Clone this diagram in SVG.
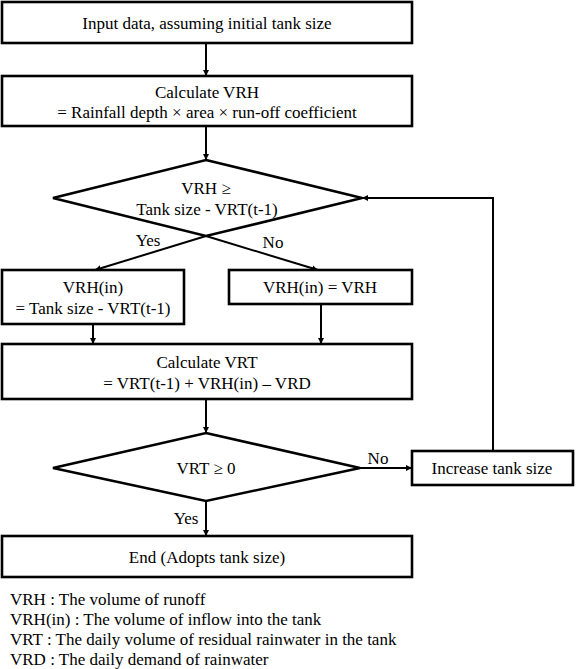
<svg xmlns="http://www.w3.org/2000/svg" width="576" height="669" viewBox="0 0 576 669">
<style>
.box{fill:#fff;stroke:#000;stroke-width:2.6}
.t{font-family:"Liberation Serif","Times New Roman",serif;font-size:17px;fill:#000;text-anchor:middle}
.l{font-family:"Liberation Serif","Times New Roman",serif;font-size:17px;fill:#000}
.c{fill:none;stroke:#000;stroke-width:2}
</style>
<defs>
<marker id="ah" viewBox="0 0 10 10" refX="10" refY="5" markerWidth="6" markerHeight="6" markerUnits="userSpaceOnUse" orient="auto">
<path d="M0,0 L10,5 L0,10 z" fill="#000"/>
</marker>
</defs>
<rect width="576" height="669" fill="#fff"/>
<g id="connectors">
<line class="c" x1="206" y1="43" x2="206" y2="76" marker-end="url(#ah)"/>
<line class="c" x1="206" y1="126" x2="206" y2="160" marker-end="url(#ah)"/>
<line class="c" x1="206" y1="236" x2="95" y2="270" marker-end="url(#ah)"/>
<line class="c" x1="206" y1="236" x2="318" y2="270" marker-end="url(#ah)"/>
<line class="c" x1="93" y1="324" x2="93" y2="344" marker-end="url(#ah)"/>
<line class="c" x1="321" y1="304" x2="321" y2="344" marker-end="url(#ah)"/>
<line class="c" x1="206" y1="399" x2="206" y2="433" marker-end="url(#ah)"/>
<line class="c" x1="360" y1="468" x2="412" y2="468" marker-end="url(#ah)"/>
<line class="c" x1="206" y1="501" x2="206" y2="536" marker-end="url(#ah)"/>
<polyline class="c" points="493,451 493,198 362,198" marker-end="url(#ah)"/>
<text class="t" x="148" y="246">Yes</text>
<text class="t" x="273" y="248">No</text>
<text class="t" x="378" y="464">No</text>
<text class="t" x="186" y="524">Yes</text>
</g>
<g id="start">
<rect class="box" x="2" y="2" width="410" height="41"/>
<text class="t" x="207" y="29">Input data, assuming initial tank size</text>
</g>
<g id="calc-vrh">
<rect class="box" x="2" y="76" width="410" height="50"/>
<text class="t" x="207" y="98">Calculate VRH</text>
<text class="t" x="207" y="118">= Rainfall depth × area × run-off coefficient</text>
</g>
<g id="decision1">
<polygon class="box" points="206,160 362,198 206,236 53,198"/>
<text class="t" x="206" y="194">VRH ≥</text>
<text class="t" x="207" y="215">Tank size - VRT(t-1)</text>
</g>
<g id="yes-box">
<rect class="box" x="2" y="270" width="182" height="54"/>
<text class="t" x="93" y="293">VRH(in)</text>
<text class="t" x="93" y="314">= Tank size - VRT(t-1)</text>
</g>
<g id="no-box">
<rect class="box" x="229" y="270" width="183" height="34"/>
<text class="t" x="320" y="293">VRH(in) = VRH</text>
</g>
<g id="calc-vrt">
<rect class="box" x="2" y="344" width="410" height="55"/>
<text class="t" x="207" y="368">Calculate VRT</text>
<text class="t" x="207" y="389">= VRT(t-1) + VRH(in) – VRD</text>
</g>
<g id="decision2">
<polygon class="box" points="206,433 360,468 206,501 53,468"/>
<text class="t" x="206" y="474">VRT ≥ 0</text>
</g>
<g id="increase">
<rect class="box" x="412" y="451" width="161" height="34"/>
<text class="t" x="492" y="474">Increase tank size</text>
</g>
<g id="end">
<rect class="box" x="2" y="536" width="410" height="41"/>
<text class="t" x="207" y="563">End (Adopts tank size)</text>
</g>
<g id="legend">
<text class="l" x="10" y="605">VRH : The volume of runoff</text>
<text class="l" x="10" y="625">VRH(in) : The volume of inflow into the tank</text>
<text class="l" x="10" y="645">VRT : The daily volume of residual rainwater in the tank</text>
<text class="l" x="10" y="665">VRD : The daily demand of rainwater</text>
</g>
</svg>
